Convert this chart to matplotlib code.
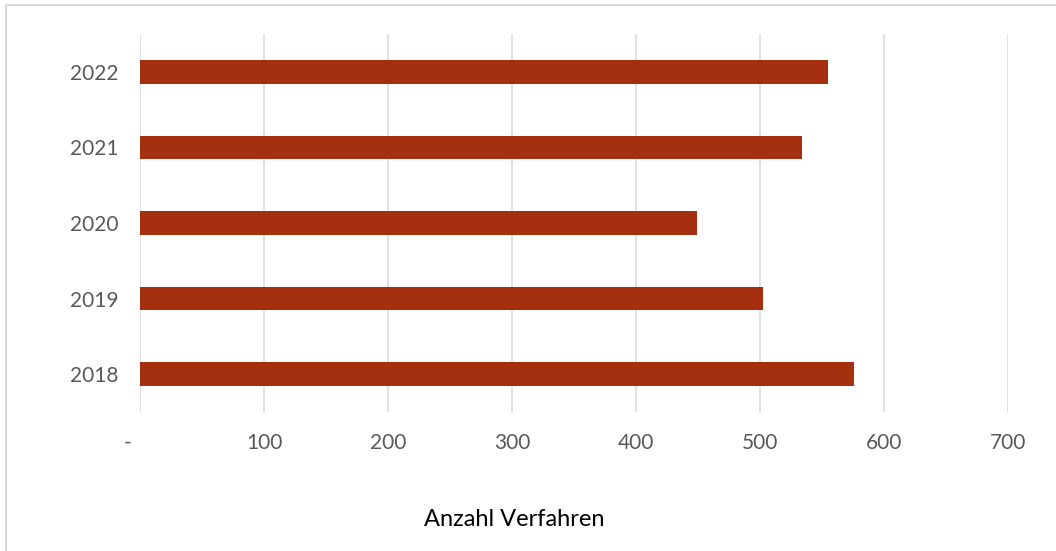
import numpy as np
import matplotlib
matplotlib.use("Agg")
import matplotlib.pyplot as plt
from matplotlib.patches import Rectangle
from matplotlib.transforms import ScaledTranslation

# data
years = ["2018", "2019", "2020", "2021", "2022"]
verfahren = [576, 502, 449, 534, 555]
xticks = [0, 100, 200, 300, 400, 500, 600, 700]
xticklabels = ["-", "100", "200", "300", "400", "500", "600", "700"]

plt.rcParams['font.family'] = ['Lato', 'DejaVu Sans']

W, H = 1056, 551
fig = plt.figure(figsize=(W / 100, H / 100), dpi=100)
ax = fig.add_axes([140.3 / W, 1 - 412 / H, (1008 - 140.3) / W, (412 - 34) / H])

y = np.arange(len(years))
ax.barh(y, verfahren, height=0.31, color="#A53010", zorder=3)

ax.set_xlim(0, 700)
ax.set_ylim(-0.5, len(years) - 0.5)
ax.set_xticks(xticks)
ax.set_xticklabels(xticklabels)
ax.set_yticks(y)
ax.set_yticklabels(years)
ax.grid(axis="x", color="#D9D9D9", linewidth=1.1, zorder=0)
for s in ax.spines.values():
    s.set_visible(False)
ax.tick_params(axis="both", length=0, labelsize=15, labelcolor="#595959")
ax.tick_params(axis="y", pad=16)
ax.tick_params(axis="x", pad=15)

# the zero label "-" sits left of its gridline
lbl0 = ax.get_xticklabels()[0]
lbl0.set_transform(lbl0.get_transform() + ScaledTranslation(-13 / 100, 0, fig.dpi_scale_trans))

fig.text(514 / W, 1 - 520 / H, "Anzahl Verfahren", ha="center", va="center",
         fontsize=17, color="black")

# outer chart frame (cut at right and bottom edge)
fig.patches.append(Rectangle((6 / W, -0.1), 1.2, 1 - 5 / H + 0.1, transform=fig.transFigure,
                             fill=False, edgecolor="#D9D9D9", linewidth=1.5))

fig.savefig("out.png", dpi=100)
